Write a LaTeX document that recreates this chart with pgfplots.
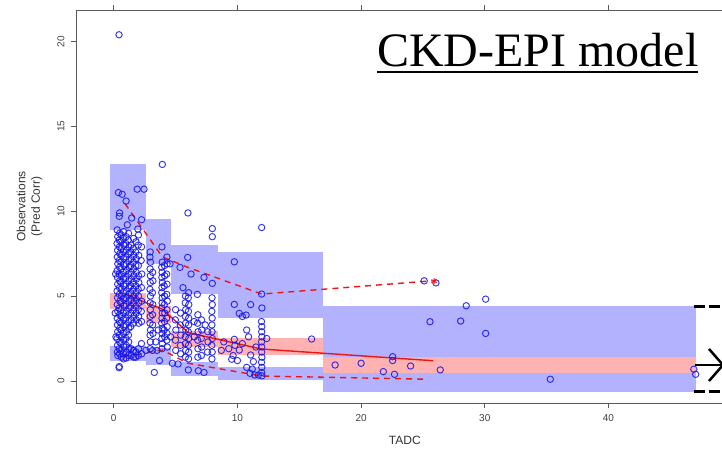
\documentclass[border=0pt]{standalone}
\usepackage{fontspec}
\setmainfont{Liberation Sans}
\newfontfamily\titlefont{Liberation Serif}
\usepackage{pgfplots}
\pgfplotsset{compat=1.18}
\definecolor{vpcblue}{RGB}{178,178,255}
\definecolor{vpcpink}{RGB}{255,178,178}
\definecolor{obsblue}{RGB}{20,20,235}
\definecolor{vpcred}{RGB}{240,20,20}
\begin{document}
\begin{tikzpicture}
\begin{axis}[
  at={(76pt,46pt)}, anchor=south west,
  scale only axis, width=646pt, height=393pt,
  xmin=-3.05, xmax=49.18, ymin=-1.30, ymax=21.86,
  axis x line*=box, axis y line*=left,
  axis line style={-, black!65, line width=0.7pt},
  xtick={0,10,20,30,40}, ytick={0,5,10,15,20},
  tick align=outside, major tick length=5pt,
  tick style={black!65, line width=0.7pt},
  /pgf/number format/assume math mode=true,
  ticklabel style={font=\fontsize{10}{12}\selectfont, text=black!75},
  xticklabel style={yshift=-3pt},
  yticklabel style={xshift=-3pt, rotate=90, anchor=south},
  xlabel={TADC}, ylabel={Observations\\(Pred Corr)},
  label style={font=\fontsize{12}{14.4}\selectfont, text=black!80},
  ylabel style={align=center, at={(axis description cs:-0.072,0.5)}, anchor=center},
  xlabel style={at={(axis description cs:0.509,-0.094)}, anchor=center},
]
% simulated 95th percentile CI (upper), median CI (pink), 5th percentile CI (lower)
\addplot[fill=vpcblue, draw=none] coordinates {(-0.28,8.92) (2.6,8.92) (2.6,12.76) (-0.28,12.76)} -- cycle;
\addplot[fill=vpcblue, draw=none] coordinates {(-0.28,1.17) (2.6,1.17) (2.6,2.05) (-0.28,2.05)} -- cycle;
\addplot[fill=vpcblue, draw=none] coordinates {(2.6,6.9) (4.6,6.9) (4.6,9.57) (2.6,9.57)} -- cycle;
\addplot[fill=vpcblue, draw=none] coordinates {(2.6,0.95) (4.6,0.95) (4.6,1.92) (2.6,1.92)} -- cycle;
\addplot[fill=vpcblue, draw=none] coordinates {(4.6,5.15) (8.46,5.15) (8.46,8.0) (4.6,8.0)} -- cycle;
\addplot[fill=vpcblue, draw=none] coordinates {(4.6,0.3) (8.46,0.3) (8.46,1.1) (4.6,1.1)} -- cycle;
\addplot[fill=vpcblue, draw=none] coordinates {(8.46,3.7) (16.95,3.7) (16.95,7.6) (8.46,7.6)} -- cycle;
\addplot[fill=vpcblue, draw=none] coordinates {(8.46,0.06) (16.95,0.06) (16.95,0.84) (8.46,0.84)} -- cycle;
\addplot[fill=vpcblue, draw=none] coordinates {(16.95,1.43) (47.05,1.43) (47.05,4.41) (16.95,4.41)} -- cycle;
\addplot[fill=vpcblue, draw=none] coordinates {(16.95,-0.63) (47.05,-0.63) (47.05,0.49) (16.95,0.49)} -- cycle;
\addplot[fill=vpcpink, draw=none] coordinates {(-0.28,4.25) (2.6,4.25) (2.6,5.2) (-0.28,5.2)} -- cycle;
\addplot[fill=vpcpink, draw=none] coordinates {(2.6,3.4) (4.6,3.4) (4.6,4.4) (2.6,4.4)} -- cycle;
\addplot[fill=vpcpink, draw=none] coordinates {(4.6,2.0) (8.46,2.0) (8.46,2.95) (4.6,2.95)} -- cycle;
\addplot[fill=vpcpink, draw=none] coordinates {(8.46,1.53) (16.95,1.53) (16.95,2.51) (8.46,2.51)} -- cycle;
\addplot[fill=vpcpink, draw=none] coordinates {(16.95,0.49) (47.05,0.49) (47.05,1.43) (16.95,1.43)} -- cycle;
% observations
\addplot[only marks, mark=o, mark size=3.2pt, mark options={draw=obsblue, line width=0.95pt, draw opacity=0.85}] coordinates {
(0.28,8.9)(0.32,8.5)(0.27,8.1)(0.31,7.7)(0.29,7.3)(0.33,6.9)(0.28,6.5)(0.30,6.1)(0.32,5.7)(0.27,5.3)(0.31,4.9)(0.29,4.5)(0.33,4.1)(0.28,3.7)(0.30,3.3)(0.32,2.9)(0.27,2.5)(0.31,2.1)(0.29,1.7)(0.33,1.5)
(0.47,9.9)(0.45,9.7)(0.48,8.7)(0.44,8.3)(0.46,7.9)(0.49,7.5)(0.45,7.1)(0.47,6.7)(0.44,6.3)(0.48,5.9)(0.46,5.5)(0.45,5.1)(0.49,4.7)(0.44,4.3)(0.47,3.9)(0.46,3.5)(0.48,3.1)(0.45,2.7)(0.47,2.3)(0.44,1.9)(0.48,1.6)(0.45,0.85)(0.43,0.78)
(0.62,8.6)(0.58,8.2)(0.61,7.8)(0.63,7.4)(0.59,7.0)(0.60,6.6)(0.62,6.2)(0.58,5.8)(0.61,5.4)(0.63,5.0)(0.59,4.6)(0.60,4.2)(0.62,3.8)(0.58,3.4)(0.61,3.0)(0.63,2.6)(0.59,2.2)(0.60,1.8)(0.62,1.4)
(0.80,8.8)(0.78,8.4)(0.82,8.0)(0.79,7.6)(0.81,7.2)(0.83,6.8)(0.78,6.4)(0.80,6.0)(0.82,5.6)(0.79,5.2)(0.81,4.8)(0.83,4.4)(0.78,4.0)(0.80,3.6)(0.82,3.2)(0.79,2.8)(0.81,2.4)(0.83,2.0)(0.78,1.6)(0.80,1.3)
(1.00,8.5)(0.98,8.1)(1.02,7.7)(0.99,7.3)(1.01,6.9)(1.03,6.5)(0.98,6.1)(1.00,5.7)(1.02,5.3)(0.99,4.9)(1.01,4.5)(1.03,4.1)(0.98,3.7)(1.00,3.3)(1.02,2.9)(0.99,2.5)(1.01,2.1)(1.03,1.7)(1.00,1.35)
(1.20,8.7)(1.18,8.3)(1.22,7.9)(1.19,7.5)(1.21,7.1)(1.23,6.7)(1.18,6.3)(1.20,5.9)(1.22,5.5)(1.19,5.1)(1.21,4.7)(1.23,4.3)(1.18,3.9)(1.20,3.5)(1.22,3.1)(1.19,2.7)(1.21,2.3)(1.23,1.9)(1.20,1.5)
(1.40,8.0)(1.38,7.6)(1.42,7.2)(1.39,6.8)(1.41,6.4)(1.43,6.0)(1.38,5.6)(1.40,5.2)(1.42,4.8)(1.39,4.4)(1.41,4.0)(1.43,3.6)(1.38,3.2)(1.40,1.9)(1.42,1.5)
(1.60,8.4)(1.58,7.8)(1.62,7.4)(1.59,7.0)(1.61,6.6)(1.63,6.2)(1.58,5.8)(1.60,5.4)(1.62,5.0)(1.59,4.6)(1.61,4.2)(1.63,3.8)(1.58,3.4)(1.60,1.8)(1.62,1.4)
(1.80,8.2)(1.78,7.6)(1.82,7.2)(1.79,6.8)(1.81,6.4)(1.83,6.0)(1.78,5.6)(1.80,5.2)(1.82,4.8)(1.79,4.4)(1.81,4.0)(1.83,3.6)(1.80,1.7)(1.78,1.4)
(2.00,8.6)(1.98,8.0)(2.02,7.4)(1.99,6.8)(2.01,6.2)(2.03,5.8)(1.98,5.4)(2.00,5.0)(2.02,4.6)(1.99,4.2)(2.01,3.8)(2.03,3.4)(2.00,1.9)(1.98,1.5)
(2.25,7.9)(2.22,7.1)(2.27,6.3)(2.24,5.5)(2.26,4.7)(2.23,4.1)(2.25,3.5)(2.24,2.2)(2.26,1.6)
(0.43,20.4)(0.38,11.1)(0.68,11.0)(1.00,10.6)(1.90,11.3)(2.45,11.3)(1.45,9.6)(2.25,9.5)(1.95,8.95)(0.15,6.3)(0.12,4.0)(0.18,2.6)(1.10,9.2)
(2.95,7.6)(2.93,7.3)(2.97,7.0)(2.94,6.6)(2.96,6.2)(2.95,5.8)(2.93,5.4)(2.97,5.0)(2.94,4.6)(2.96,4.2)(2.95,3.8)(2.93,3.4)(2.97,3.0)(2.94,2.7)(2.96,2.3)(2.95,1.9)
(3.15,6.4)(3.17,5.9)(3.13,5.2)(3.16,4.5)(3.14,3.9)(3.15,3.3)(3.17,2.8)(3.14,1.8)
(3.90,7.9)(3.92,7.0)(3.88,6.7)(3.91,6.4)(3.89,6.1)(3.93,5.8)(3.90,5.5)(3.88,5.2)(3.92,4.9)(3.91,4.6)(3.89,4.3)(3.93,4.0)(3.90,3.7)(3.88,3.4)(3.92,3.1)(3.91,2.8)(3.89,2.5)(3.93,2.2)(3.90,1.9)
(4.10,6.8)(4.12,6.2)(4.08,5.6)(4.11,5.0)(4.09,4.5)(4.13,4.0)(4.10,3.5)(4.08,3.0)(4.12,2.6)
(4.30,7.3)(4.32,6.9)(4.28,6.3)(4.31,5.7)(4.29,5.1)(4.33,4.7)(4.30,4.2)(4.28,3.7)(4.32,3.2)(4.31,2.8)(4.29,2.4)(4.33,2.0)
(3.93,12.76)(3.28,0.5)(2.60,1.8)(3.50,1.8)(4.74,1.04)(3.70,1.2)(4.55,6.9)(4.60,2.6)(3.40,2.3)(3.60,3.0)
(5.00,4.2)(4.98,3.6)(5.02,3.0)(4.99,2.4)(5.01,1.8)
(5.40,4.0)(5.38,3.3)(5.42,2.7)(5.39,2.1)(5.41,1.6)
(5.80,5.0)(5.78,4.6)(5.82,4.2)(5.79,3.8)(5.81,3.4)(5.83,3.0)(5.78,2.6)(5.80,2.2)(5.82,1.8)(5.79,1.4)
(6.05,5.2)(6.03,4.9)(6.07,4.5)(6.04,4.1)(6.06,3.7)(6.05,3.3)(6.03,2.9)(6.07,2.5)(6.04,2.1)(6.06,1.7)(6.05,1.3)(6.03,0.65)
(6.80,3.9)(6.78,3.4)(6.82,2.9)(6.79,2.4)(6.81,1.9)(6.80,1.4)(6.84,0.6)
(7.10,3.6)(7.12,3.0)(7.08,2.5)(7.11,2.0)(7.09,1.5)
(7.60,2.9)(7.62,2.3)(7.58,1.7)
(7.95,4.9)(7.97,4.5)(7.93,4.1)(7.96,3.7)(7.94,3.3)(7.95,2.9)(7.97,2.5)(7.93,2.1)(7.96,1.7)(7.94,1.3)
(6.00,9.9)(5.98,7.28)(6.25,6.3)(7.30,6.1)(7.97,8.98)(7.97,8.5)(7.97,5.75)(6.76,5.1)(5.36,6.69)(5.60,5.5)(7.30,0.5)(5.20,1.0)(6.50,2.6)(6.50,3.5)(7.40,3.3)
(11.96,9.04)(11.96,5.12)(11.98,4.3)(11.95,3.5)(11.97,3.2)(11.96,2.9)(11.98,2.6)(11.95,2.3)(11.97,2.0)(11.96,1.7)(11.98,1.4)(11.95,1.1)(11.97,0.8)(11.96,0.5)(11.98,0.3)
(9.75,7.02)(9.75,4.51)(10.15,3.98)(10.40,3.8)(10.70,3.88)(11.07,4.5)(12.37,2.5)(9.75,2.45)(9.80,2.1)(9.54,1.28)(9.65,1.5)(10.15,1.82)(10.75,3.0)(10.90,2.6)(11.07,1.53)(11.29,1.14)(10.75,0.8)(11.02,0.45)(11.40,0.35)(11.20,0.7)(10.40,2.2)(11.50,2.0)(9.30,1.9)(8.90,2.3)(8.70,1.8)(10.00,1.2)(11.70,0.35)(16.00,2.47)
(17.9,0.94)(20.0,1.04)(21.8,0.55)(22.7,0.39)(22.55,1.43)(22.55,1.2)(24.0,0.88)(26.4,0.65)(25.1,5.9)(26.05,5.78)(25.57,3.49)(28.05,3.53)(28.5,4.43)(30.07,4.82)(30.07,2.8)(35.3,0.1)(46.9,0.69)(47.05,0.39)
};
% observed percentiles
\addplot[vpcred, line width=1.4pt, mark=none] coordinates {(0.91,5.12) (3.95,4.22) (6.03,2.84) (11.96,1.88) (25.84,1.19)};
\addplot[vpcred, line width=1.4pt, mark=none, dash pattern=on 6pt off 5pt] coordinates {(0.91,10.45) (3.93,7.31) (6.0,6.69) (11.96,5.12) (25.7,5.9)};
\addplot[vpcred, line width=1.4pt, mark=none, dash pattern=on 6pt off 5pt] coordinates {(0.91,1.43) (3.93,1.82) (6.0,1.04) (11.96,0.29) (25.4,0.1)};
\addplot[only marks, mark=asterisk, mark size=3pt, vpcred, line width=1pt] coordinates {(25.9,5.88)};
\end{axis}
\node[anchor=base west, inner sep=0pt, font=\titlefont\fontsize{48}{50}\selectfont] at (377pt,382.3pt) {CKD-EPI model};
\draw[line width=2.5pt] (377pt,377pt) -- (698pt,377pt);
\draw[line width=2.5pt, dash pattern=on 11pt off 4pt] (694pt,142.3pt) -- (722pt,142.3pt);
\draw[line width=2.5pt, dash pattern=on 11pt off 4pt] (694pt,57.3pt) -- (722pt,57.3pt);
\draw[line width=2.5pt] (695pt,84pt) -- (722pt,84pt);
\draw[line width=2.5pt] (709pt,100pt) -- (723pt,84pt) -- (709pt,68pt);
\pgfresetboundingbox
\path[use as bounding box] (0,0) rectangle (722pt,449pt);
\end{tikzpicture}
\end{document}
